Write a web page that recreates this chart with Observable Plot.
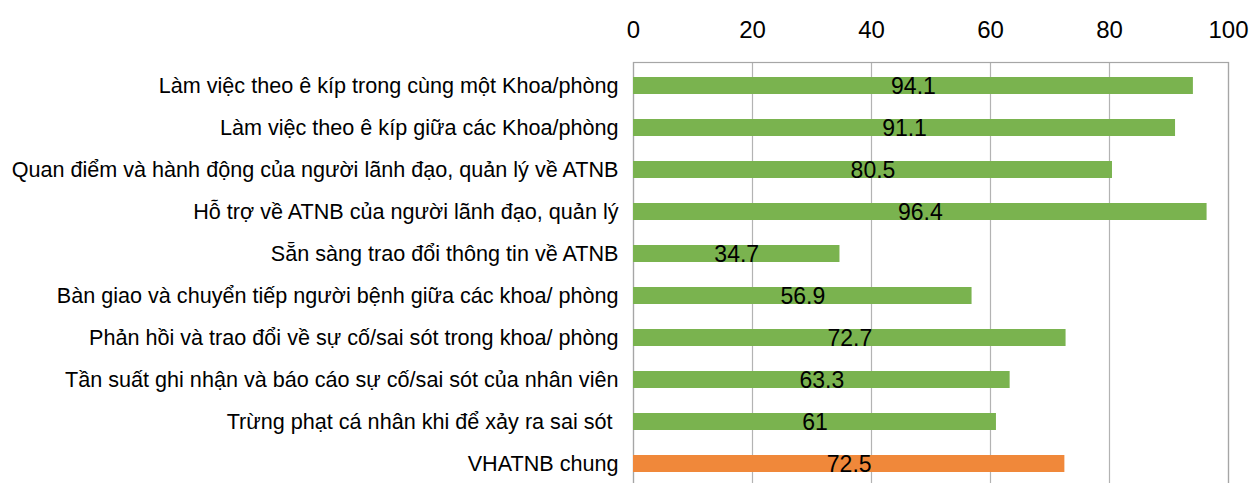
<!DOCTYPE html>
<html><head><meta charset="utf-8">
<script src="https://cdn.jsdelivr.net/npm/d3@7"></script>
<script src="https://cdn.jsdelivr.net/npm/@observablehq/plot@0.6"></script>
<style>html,body{margin:0;padding:0;background:#fff;overflow:hidden}</style>
</head><body><div id="chart"></div>
<script>
const categories = [
  "Làm việc theo ê kíp trong cùng một Khoa/phòng",
  "Làm việc theo ê kíp giữa các Khoa/phòng",
  "Quan điểm và hành động của người lãnh đạo, quản lý về ATNB",
  "Hỗ trợ về ATNB của người lãnh đạo, quản lý",
  "Sẵn sàng trao đổi thông tin về ATNB",
  "Bàn giao và chuyển tiếp người bệnh giữa các khoa/ phòng",
  "Phản hồi và trao đổi về sự cố/sai sót trong khoa/ phòng",
  "Tần suất ghi nhận và báo cáo sự cố/sai sót của nhân viên",
  "Trừng phạt cá nhân khi để xảy ra sai sót ",
  "VHATNB chung"
];
const values = [94.1, 91.1, 80.5, 96.4, 34.7, 56.9, 72.7, 63.3, 61, 72.5];
const xTicks = [0, 20, 40, 60, 80, 100];
const data = categories.map((c, i) => ({cat: c, v: values[i], overall: i === categories.length - 1}));

const chart = Plot.plot({
  width: 1250, height: 483,
  marginLeft: 633, marginRight: 22, marginTop: 62, marginBottom: -5,
  style: {fontFamily: "Liberation Sans, Arial, sans-serif", background: "#fff"},
  x: {domain: [0, 100], ticks: xTicks},
  y: {domain: categories, paddingInner: 0.59, paddingOuter: 0.295, align: 0.5},
  marks: [
    Plot.gridX(xTicks, {stroke: "#b3b3b3", strokeOpacity: 1, strokeWidth: 1.2}),
    Plot.frame({stroke: "#a6a6a6", strokeWidth: 1.2}),
    Plot.barX(data, {x: "v", y: "cat", fill: d => d.overall ? "#f0883a" : "#7ab34f"}),
    Plot.text(data, {x: d => d.v / 2, y: "cat", text: d => String(d.v), fontSize: 23, fill: "#000", dy: 1}),
    Plot.axisX({anchor: "top", ticks: xTicks, tickSize: 0, tickPadding: 25, fontSize: 24, color: "#000", label: null}),
    Plot.axisY({tickSize: 0, tickPadding: 15, fontSize: 21.6, color: "#000", label: null})
  ]
});
document.getElementById("chart").appendChild(chart);
</script></body></html>
